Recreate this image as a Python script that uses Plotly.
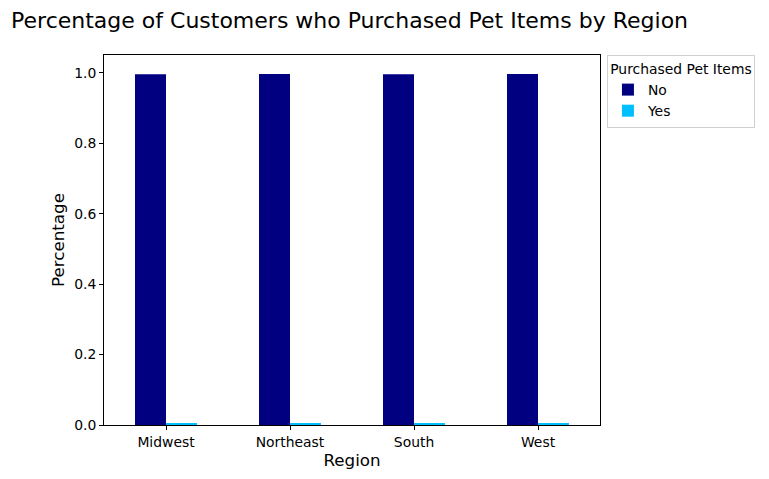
import plotly.graph_objects as go

regions = ["Midwest", "Northeast", "South", "West"]
pct_no = [0.9965, 0.9968, 0.9966, 0.9967]
pct_yes = [0.0035, 0.0032, 0.0034, 0.0033]

fig = go.Figure()
fig.add_trace(go.Bar(x=regions, y=pct_no, name="No", marker_color="#000080",
                     marker_line_width=0))
fig.add_trace(go.Bar(x=regions, y=pct_yes, name="Yes", marker_color="#00BFFF",
                     marker_line_width=0))

# the page adds an 8px body margin, so margins are shifted to compensate
fig.update_layout(
    width=769, height=479,
    barmode="group", bargap=0.5, bargroupgap=0,
    plot_bgcolor="white", paper_bgcolor="white",
    font=dict(family="DejaVu Sans", size=13.9, color="black"),
    margin=dict(l=96, r=177, t=47, b=62, autoexpand=False),
    title=dict(text="Percentage of Customers who Purchased Pet Items by Region",
               x=0.004, xanchor="left", y=0.975, yanchor="middle",
               font=dict(size=22)),
    legend=dict(title=dict(text="Purchased Pet Items", side="top center",
                           font=dict(size=13.9)),
                x=1.014, y=1, xanchor="left", yanchor="top",
                bordercolor="#d0d0d0", borderwidth=1, itemwidth=30,
                font=dict(size=13.9)),
    xaxis=dict(title=dict(text="Region", font=dict(size=16.7), standoff=4),
               range=[-0.5, 3.5], showline=True, linecolor="black", mirror=True,
               ticks="outside", ticklen=4, tickcolor="black", showgrid=False),
    yaxis=dict(title=dict(text="Percentage", font=dict(size=16.7), standoff=5),
               range=[0, 1.051], dtick=0.2, tickformat=".1f",
               showline=True, linecolor="black", mirror=True,
               ticks="outside", ticklen=4, tickcolor="black",
               showgrid=False, zeroline=False),
)

fig.write_html("out.html")
